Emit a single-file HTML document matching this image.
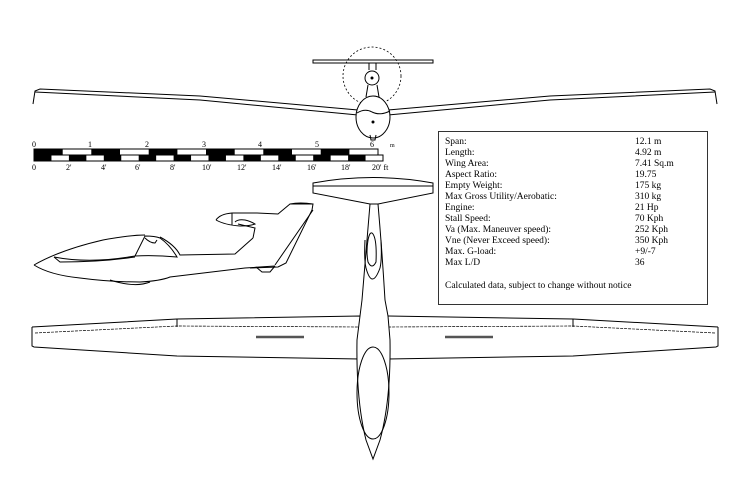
<!DOCTYPE html>
<html><head><meta charset="utf-8"><style>
html,body{margin:0;padding:0;background:#fff;}
svg{display:block}
text{font-family:"Liberation Serif",serif;fill:#000}
</style></head><body>
<svg width="750" height="499" viewBox="0 0 750 499" xmlns="http://www.w3.org/2000/svg">
<g fill="none" stroke="#000" stroke-width="1">
<!-- FRONT VIEW -->
<path d="M313 60 L433 60 L433 63 L313 63 Z" fill="#fff"/>
<circle cx="372" cy="76" r="29" stroke-dasharray="2,2" stroke-width="0.8"/>
<line x1="369" y1="63" x2="369" y2="70"/><line x1="376" y1="63" x2="376" y2="70"/>
<circle cx="372" cy="78" r="7" fill="#fff"/>
<circle cx="372" cy="78" r="1" fill="#000"/>
<path d="M368 85 L366 97 M377 85 L379 97"/>
<path d="M33 104 L35 91 L40 89 L200 96 L358 110"/>
<path d="M35 92 L200 100 L358 115"/>
<path d="M717 104 L715 91 L710 89 L550 96 L388 110"/>
<path d="M715 92 L550 100 L388 115"/>
<ellipse cx="373" cy="117" rx="17" ry="21" fill="#fff"/>
<path d="M357 113 Q365 108 372 112 Q380 116 390 111"/>
<circle cx="373" cy="122" r="1" fill="#000"/>
<path d="M370 135 L371 140 L375 140 L376 135"/>

<!-- SCALE BAR -->
<rect x="34" y="149" width="344" height="6" fill="#fff"/>
<rect x="34" y="155" width="349" height="6" fill="#fff"/>
</g>
<g fill="#000">
<rect x="34" y="149" width="28.7" height="6"/><rect x="91.3" y="149" width="28.7" height="6"/><rect x="148.7" y="149" width="28.7" height="6"/><rect x="206" y="149" width="28.7" height="6"/><rect x="263.3" y="149" width="28.7" height="6"/><rect x="320.7" y="149" width="28.7" height="6"/>
<rect x="34" y="155" width="17.45" height="6"/><rect x="68.9" y="155" width="17.45" height="6"/><rect x="103.8" y="155" width="17.45" height="6"/><rect x="138.7" y="155" width="17.45" height="6"/><rect x="173.6" y="155" width="17.45" height="6"/><rect x="208.5" y="155" width="17.45" height="6"/><rect x="243.4" y="155" width="17.45" height="6"/><rect x="278.3" y="155" width="17.45" height="6"/><rect x="313.2" y="155" width="17.45" height="6"/><rect x="348.1" y="155" width="17.45" height="6"/>
</g>
<g font-size="8">
<text x="32" y="147">0</text><text x="88" y="147">1</text><text x="145" y="147">2</text><text x="202" y="147">3</text><text x="258" y="147">4</text><text x="315" y="147">5</text><text x="370" y="147">6</text><text x="390" y="147" font-size="6">m</text>
<text x="32" y="170">0</text><text x="66" y="170">2'</text><text x="101" y="170">4'</text><text x="135" y="170">6'</text><text x="170" y="170">8'</text><text x="202" y="170">10'</text><text x="237" y="170">12'</text><text x="272" y="170">14'</text><text x="307" y="170">16'</text><text x="341" y="170">18'</text><text x="372" y="170">20' ft</text>
</g>

<g fill="none" stroke="#000" stroke-width="1">
<!-- SIDE VIEW -->
<path d="M34 265 Q60 250 103 240 Q130 235 145 235 M160 237 Q175 245 180 255 L235 254 L253 238"/>
<path d="M54 257 Q90 264 135 256 L145 236 Q155 236 160 238 Q170 245 177 257 Q155 255 135 256"/>
<path d="M54 257 L60 262 Q100 262 135 257"/>
<path d="M34 265 Q50 275 80 278 Q110 282 140 282 Q160 281 170 277 L245 268 L275 266"/>
<path d="M145 238 Q150 243 155 243 L157 240"/>
<path d="M110 280 Q135 288 150 282"/>
<path d="M253 238 L255 228 L238 224"/>
<path d="M216 220 Q220 214 232 213 Q245 213 257 213 L278 214 L290 204 L313 204 L312 210 L286 263 L278 267 L250 268"/>
<path d="M232 213 L232 225 M216 220 Q225 225 240 226 Q250 226 255 224 Q250 221 245 220 Q238 219 235 222"/>
<path d="M290 204 Q300 202 313 204 M313 210 L275 265"/>
<path d="M256 267 L262 272 L270 272 L275 266"/>

<!-- TOP VIEW -->
<path d="M313 183 Q373 172 433 183 L433 193 L378 204 L370 204 L313 193 Z" fill="#fff"/>
<line x1="313" y1="186" x2="433" y2="186"/>
<path d="M370 204 Q366 250 362 300 L360 316 M378 204 Q382 250 385 300 L388 316"/>
<path d="M368 240 Q370 230 373 234 Q377 240 376 262 Q372 270 368 262 Q366 252 368 240 Z"/>
<path d="M365 240 Q364 260 366 268 M381 240 Q382 260 380 268"/>
<path d="M366 268 Q372 290 380 268"/>
<path d="M32 327 L32 346 L34 347 L177 356 L360 359 M32 327 L177 319 L360 316 L361 318"/>
<path d="M718 327 L718 346 L716 347 L573 356 L388 359 M718 327 L573 319 L388 316"/>
<line x1="177" y1="319" x2="177" y2="327"/><line x1="573" y1="319" x2="573" y2="327"/>
<path d="M35 333 L177 326 L360 327 M715 333 L573 326 L388 327" stroke-dasharray="3,1" stroke-width="0.7"/>
<path d="M360 316 L357 340 Q356 400 366 440 L373 459 L380 440 Q391 400 390 340 L388 316" fill="#fff"/>
<ellipse cx="373" cy="393" rx="16" ry="46"/>
</g>
<g stroke="#555" stroke-width="2.5"><line x1="256" y1="337" x2="304" y2="337"/><line x1="445" y1="337" x2="493" y2="337"/></g>

<!-- INFO BOX -->
<rect x="438.5" y="131.5" width="269" height="173" fill="#fff" stroke="#333" stroke-width="1"/>
<g font-size="9.5">
<text x="445" y="144">Span:</text><text x="635" y="144">12.1 m</text>
<text x="445" y="155">Length:</text><text x="635" y="155">4.92 m</text>
<text x="445" y="166">Wing Area:</text><text x="635" y="166">7.41 Sq.m</text>
<text x="445" y="177">Aspect Ratio:</text><text x="635" y="177">19.75</text>
<text x="445" y="188">Empty Weight:</text><text x="635" y="188">175 kg</text>
<text x="445" y="199">Max Gross Utility/Aerobatic:</text><text x="635" y="199">310 kg</text>
<text x="445" y="210">Engine:</text><text x="635" y="210">21 Hp</text>
<text x="445" y="221">Stall Speed:</text><text x="635" y="221">70 Kph</text>
<text x="445" y="232">Va (Max. Maneuver speed):</text><text x="635" y="232">252 Kph</text>
<text x="445" y="243">Vne (Never Exceed speed):</text><text x="635" y="243">350 Kph</text>
<text x="445" y="254">Max. G-load:</text><text x="635" y="254">+9/-7</text>
<text x="445" y="265">Max L/D</text><text x="635" y="265">36</text>
<text x="445" y="288">Calculated data, subject to change without notice</text>
</g>
</svg>
</body></html>
